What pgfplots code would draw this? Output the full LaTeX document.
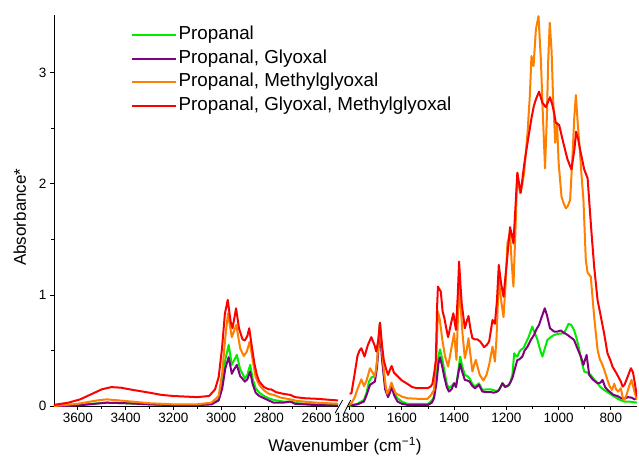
\documentclass[border=0pt]{standalone}
\usepackage{fontspec}
\setmainfont{Liberation Sans}
\usepackage{pgfplots}
\pgfplotsset{compat=1.18}

\definecolor{cGreen}{RGB}{0,235,0}
\definecolor{cPurple}{RGB}{128,0,128}
\definecolor{cOrange}{RGB}{255,128,0}
\definecolor{cRed}{RGB}{255,0,0}

\pgfplotsset{
  spec/.style={
    scale only axis,
    x dir=reverse,
    ymin=0, ymax=3.52,
    height=391pt,
    tick align=outside,
    major tick length=4pt,
    minor tick length=2.5pt,
    axis line style={line width=0.8pt},
    every tick/.style={line width=0.8pt, black},
    minor x tick num=1,
    /pgf/number format/assume math mode=true,
    /pgf/number format/1000 sep={},
    tick label style={font=\fontsize{13.5}{15}\selectfont},
    label style={font=\fontsize{17}{19}\selectfont},
    every axis plot post/.append style={mark=none, line width=2pt, line join=round},
  },
}

\begin{document}
\begin{tikzpicture}
\useasboundingbox (0pt,0pt) rectangle (639pt,456pt);

% ---- high wavenumber part ----
\begin{axis}[
  spec,
  at={(54pt,50pt)}, anchor=south west,
  width=284pt,
  xmin=2510, xmax=3700,
  axis lines*=left,
  xtick={2600,2800,3000,3200,3400,3600},
  ytick={0,1,2,3},
  minor y tick num=1,
  ylabel={Absorbance*},
  ylabel style={at={(axis description cs:-0.12,0.483)}, anchor=center},
  legend cell align=left,
  legend image code/.code={\draw[#1] (0pt,0pt) -- (44pt,0pt);},
  legend style={at={(axis description cs:0.271,0.975)}, anchor=north west,
    draw=none, fill=none, inner sep=0pt, row sep=3.6pt,
    font=\fontsize{18.8}{20}\selectfont,
    nodes={inner sep=1.5pt, text height=13pt, text depth=4pt}},
]
\addplot[cGreen] table {
3700 0.0
3600 0.01
3480 0.03
3400 0.025
3300 0.015
3200 0.01
3100 0.01
3040 0.02
3010 0.06
2995 0.2
2982 0.42
2968 0.55
2955 0.37
2948 0.40
2934 0.46
2920 0.33
2900 0.25
2890 0.28
2878 0.37
2868 0.25
2855 0.16
2840 0.12
2820 0.09
2800 0.07
2780 0.055
2740 0.04
2710 0.04
2680 0.025
2600 0.015
2510 0.01
};
\addlegendentry{Propanal}
\addplot[cPurple] table {
3700 0.0
3600 0.005
3480 0.03
3400 0.025
3300 0.015
3200 0.008
3100 0.008
3040 0.015
3010 0.05
2995 0.16
2982 0.34
2968 0.44
2955 0.29
2948 0.32
2934 0.37
2920 0.27
2900 0.22
2890 0.24
2878 0.31
2868 0.2
2855 0.12
2840 0.09
2820 0.07
2800 0.05
2780 0.03
2740 0.03
2710 0.04
2690 0.02
2600 0.008
2510 0.005
};
\addlegendentry{Propanal, Glyoxal}
\addplot[cOrange] table {
3700 0.0
3600 0.02
3520 0.05
3480 0.06
3400 0.045
3300 0.025
3200 0.015
3100 0.015
3040 0.03
3010 0.09
2995 0.3
2982 0.62
2971 0.835
2955 0.62
2948 0.66
2936 0.73
2920 0.52
2905 0.45
2892 0.49
2880 0.58
2868 0.42
2855 0.26
2840 0.19
2820 0.14
2800 0.11
2780 0.1
2750 0.075
2710 0.06
2680 0.045
2600 0.03
2510 0.02
};
\addlegendentry{Propanal, Methylglyoxal}
\addplot[cRed] table {
3700 0.01
3640 0.03
3590 0.06
3540 0.11
3500 0.15
3460 0.17
3420 0.165
3370 0.145
3300 0.12
3250 0.1
3200 0.09
3100 0.08
3050 0.09
3025 0.15
3010 0.26
2996 0.52
2984 0.83
2972 0.955
2960 0.76
2952 0.70
2937 0.88
2925 0.7
2910 0.6
2900 0.59
2890 0.63
2882 0.70
2870 0.52
2860 0.38
2850 0.28
2840 0.22
2820 0.17
2800 0.15
2790 0.15
2770 0.125
2740 0.11
2710 0.1
2690 0.08
2650 0.07
2600 0.065
2510 0.05
};
\addlegendentry{Propanal, Glyoxal, Methylglyoxal}
\end{axis}

% ---- fingerprint part ----
\begin{axis}[
  spec,
  at={(347pt,50pt)}, anchor=south west,
  width=290pt,
  xmin=700, xmax=1810,
  axis x line*=bottom,
  axis y line=none,
  ytick=\empty,
  xtick={800,1000,1200,1400,1600,1800},
  xlabel={Wavenumber (cm\textsuperscript{−1})},
  xlabel style={at={(axis description cs:-0.007,-0.102)}, anchor=center},
]
\addplot[cGreen] table {
1800 0.0
1770 0.02
1745 0.055
1735 0.12
1726 0.22
1715 0.26
1707 0.265
1700 0.3
1693 0.45
1684 0.75
1676 0.45
1664 0.175
1653 0.10
1646 0.14
1639 0.205
1630 0.12
1617 0.07
1600 0.04
1579 0.02
1500 0.02
1485 0.05
1477 0.085
1468 0.25
1460 0.45
1454 0.51
1445 0.42
1438 0.325
1428 0.2
1420 0.16
1410 0.18
1400 0.205
1393 0.17
1385 0.3
1377 0.445
1368 0.35
1359 0.28
1350 0.27
1341 0.25
1330 0.2
1320 0.175
1305 0.205
1292 0.145
1275 0.15
1260 0.15
1245 0.14
1234 0.13
1222 0.17
1215 0.205
1205 0.18
1196 0.175
1185 0.21
1177 0.28
1170 0.475
1163 0.45
1158 0.445
1150 0.49
1145 0.505
1135 0.52
1126 0.565
1115 0.62
1101 0.715
1090 0.65
1081 0.595
1070 0.5
1062 0.445
1055 0.5
1043 0.595
1030 0.62
1017 0.64
1000 0.65
979 0.655
970 0.7
962 0.74
952 0.73
941 0.685
930 0.6
921 0.505
910 0.38
902 0.31
890 0.3
877 0.28
865 0.24
851 0.205
840 0.17
826 0.145
810 0.12
787 0.085
770 0.06
749 0.04
730 0.04
715 0.035
700 0.03
};
\addplot[cPurple] table {
1800 0.005
1770 0.015
1745 0.04
1735 0.1
1722 0.19
1710 0.21
1703 0.22
1695 0.35
1684 0.70
1676 0.42
1664 0.15
1653 0.08
1646 0.12
1639 0.17
1630 0.1
1617 0.04
1600 0.02
1579 0.01
1500 0.01
1485 0.03
1477 0.07
1468 0.2
1460 0.38
1454 0.44
1445 0.35
1438 0.265
1428 0.17
1420 0.13
1410 0.15
1400 0.205
1393 0.17
1385 0.28
1377 0.38
1368 0.3
1359 0.235
1350 0.23
1341 0.22
1330 0.18
1320 0.16
1305 0.19
1292 0.13
1275 0.125
1260 0.125
1247 0.12
1235 0.13
1228 0.145
1215 0.205
1205 0.17
1190 0.19
1177 0.25
1168 0.33
1158 0.415
1150 0.42
1139 0.445
1130 0.5
1119 0.535
1105 0.6
1094 0.64
1085 0.69
1075 0.73
1065 0.8
1053 0.88
1045 0.82
1033 0.70
1017 0.67
1005 0.67
992 0.68
980 0.66
966 0.64
955 0.62
941 0.595
930 0.53
915 0.445
905 0.37
893 0.46
883 0.28
870 0.24
851 0.205
840 0.21
832 0.235
822 0.17
813 0.145
800 0.12
790 0.1
775 0.09
760 0.07
749 0.065
735 0.08
720 0.075
710 0.06
700 0.07
};
\addplot[cOrange] table {
1800 0.01
1793 0.025
1780 0.08
1771 0.145
1755 0.24
1745 0.18
1735 0.23
1722 0.34
1712 0.3
1703 0.265
1695 0.4
1684 0.745
1676 0.5
1669 0.325
1662 0.18
1656 0.11
1648 0.15
1640 0.21
1632 0.16
1624 0.115
1600 0.085
1579 0.07
1540 0.065
1502 0.065
1488 0.1
1477 0.145
1468 0.45
1462 0.85
1455 0.78
1445 0.595
1435 0.45
1423 0.355
1412 0.5
1400 0.655
1391 0.415
1381 1.09
1375 0.9
1368 0.655
1359 0.43
1352 0.5
1345 0.61
1337 0.45
1330 0.31
1322 0.38
1317 0.415
1310 0.35
1302 0.28
1288 0.23
1276 0.28
1266 0.37
1253 0.535
1244 0.40
1238 0.6
1229 1.135
1220 0.95
1211 0.80
1203 1.1
1196 1.465
1186 1.555
1180 1.3
1173 1.075
1165 1.6
1158 2.10
1148 1.915
1140 1.98
1132 2.10
1125 2.3
1119 2.46
1110 2.8
1104 3.15
1096 3.06
1087 3.39
1077 3.51
1068 3.12
1060 2.6
1052 2.14
1045 2.6
1040 3.1
1034 3.45
1027 3.2
1021 2.76
1013 2.37
1006 2.55
1000 2.19
989 1.885
980 1.82
972 1.78
965 1.8
956 1.855
948 2.2
940 2.6
934 2.80
927 2.55
921 2.37
913 2.1
905 1.855
896 1.315
889 1.2
877 1.165
864 0.805
851 0.505
842 0.42
832 0.37
822 0.3
813 0.235
805 0.18
796 0.145
787 0.2
780 0.15
772 0.13
762 0.16
755 0.08
749 0.055
740 0.1
730 0.18
721 0.235
712 0.15
701 0.055
};
\addplot[cRed] table {
1800 0.11
1793 0.115
1780 0.3
1770 0.45
1762 0.5
1755 0.52
1743 0.445
1730 0.55
1717 0.62
1705 0.55
1698 0.49
1690 0.6
1684 0.75
1676 0.55
1669 0.41
1660 0.33
1653 0.28
1645 0.33
1639 0.36
1630 0.3
1617 0.27
1600 0.23
1579 0.20
1560 0.17
1541 0.16
1502 0.16
1490 0.175
1483 0.2
1476 0.3
1470 0.41
1465 0.9
1462 1.075
1451 1.03
1444 0.85
1438 0.80
1430 0.7
1423 0.62
1413 0.73
1403 0.835
1393 0.685
1386 1.0
1381 1.30
1376 1.1
1371 0.925
1359 0.70
1352 0.76
1345 0.81
1338 0.7
1330 0.61
1320 0.6
1311 0.60
1300 0.58
1285 0.53
1275 0.55
1266 0.58
1253 0.775
1244 0.74
1236 0.95
1229 1.27
1220 1.1
1211 0.985
1200 1.25
1186 1.61
1180 1.55
1173 1.465
1165 1.8
1158 2.10
1150 1.98
1145 1.92
1132 2.17
1119 2.37
1104 2.59
1095 2.7
1087 2.76
1075 2.83
1062 2.73
1049 2.69
1033 2.78
1025 2.72
1017 2.64
1011 2.55
998 2.53
990 2.45
979 2.34
966 2.22
951 2.13
940 2.3
933 2.47
925 2.4
918 2.31
902 2.13
889 2.05
880 1.75
874 1.555
864 1.255
851 0.955
838 0.80
826 0.655
813 0.475
800 0.4
794 0.355
780 0.3
772 0.265
762 0.22
755 0.175
748 0.19
738 0.25
730 0.3
723 0.34
715 0.3
708 0.2
700 0.085
};
\end{axis}

% axis break marks
\draw[line width=0.8pt] (335pt,42.7pt) -- (342.7pt,56pt);
\draw[line width=0.8pt] (344pt,42.7pt) -- (350.7pt,56pt);
\end{tikzpicture}
\end{document}
